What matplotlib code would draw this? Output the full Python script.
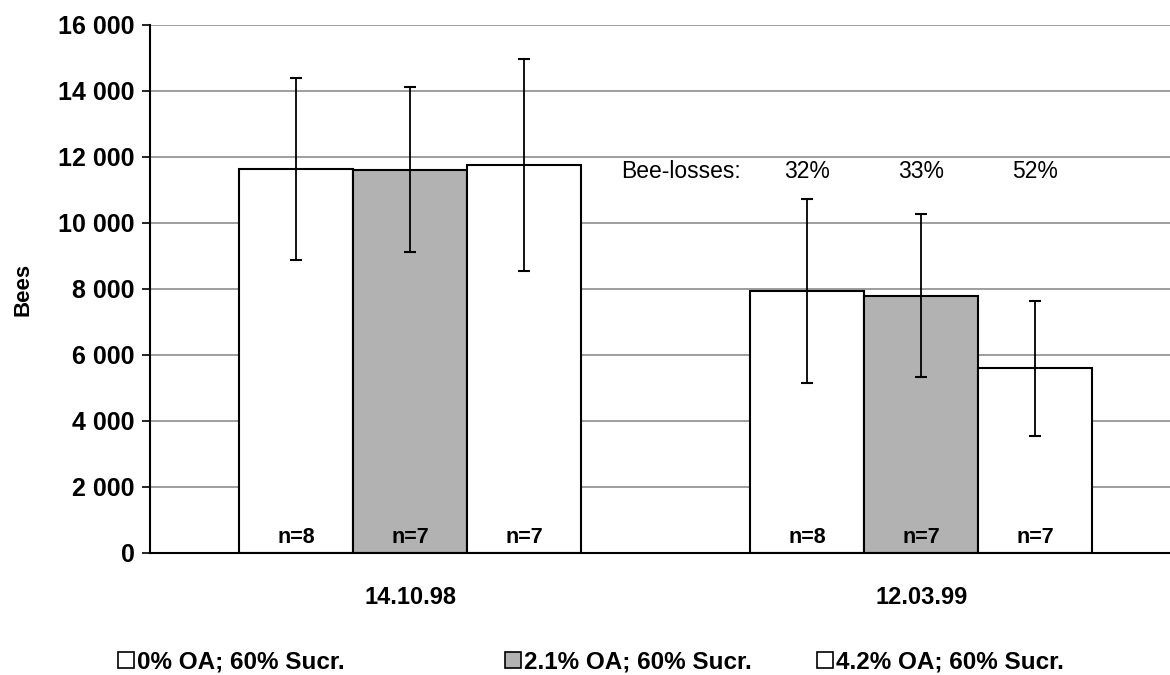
import numpy as np
import matplotlib.pyplot as plt
from matplotlib.patches import Patch

plt.rcParams['font.family'] = ['Liberation Sans', 'DejaVu Sans']

dates = ['14.10.98', '12.03.99']
series = ['0% OA; 60% Sucr.', '2.1% OA; 60% Sucr.', '4.2% OA; 60% Sucr.']
means = [[11640, 7940],
         [11620, 7800],
         [11760, 5600]]
errs = [[2750, 2790],
        [2500, 2470],
        [3210, 2045]]
n_labels = [['n=8', 'n=8'], ['n=7', 'n=7'], ['n=7', 'n=7']]
losses = ['32%', '33%', '52%']
colors = ['white', '#b2b2b2', 'white']

fig = plt.figure(figsize=(11.7, 6.75), dpi=100)
ax = fig.add_axes([150/1170, 122/675, 1020/1170, 528/675])

x = np.arange(len(dates))
w = 0.223
for i in range(3):
    pos = x + (i - 1) * w
    ax.bar(pos, means[i], w, color=colors[i], edgecolor='black', linewidth=1.5, zorder=2)
    ax.errorbar(pos, means[i], yerr=errs[i], fmt='none', ecolor='black',
                elinewidth=1.3, capsize=4, capthick=1.5, zorder=3)
    for j in range(len(dates)):
        ax.text(pos[j], 300, n_labels[i][j], ha='center', va='baseline',
                fontsize=15.5, fontweight='bold', zorder=4)
    ax.text(pos[1], 11550, losses[i], ha='center', va='center', fontsize=16.5, zorder=4)
ax.text(x[1] - 1.5 * w - 0.018, 11550, 'Bee-losses:', ha='right', va='center',
        fontsize=16.5, zorder=4)

ax.set_xlim(-0.509, 1.487)
ax.set_ylim(0, 16000)
ax.set_yticks(np.arange(0, 16001, 2000))
ax.set_yticklabels(['{:,}'.format(v).replace(',', ' ') for v in range(0, 16001, 2000)],
                   fontsize=18, fontweight='bold')
ax.set_xticks(x)
ax.set_xticklabels(dates, fontsize=17, fontweight='bold')
ax.tick_params(axis='x', length=0, pad=24)
ax.tick_params(axis='y', length=6, width=1.2, pad=5)
ax.yaxis.grid(True, color='#8c8c8c', linewidth=1.2, zorder=0)
ax.set_axisbelow(True)
for s in ['top', 'right']:
    ax.spines[s].set_visible(False)
ax.spines['left'].set_linewidth(1.5)
ax.spines['bottom'].set_linewidth(1.5)
ax.set_ylabel('Bees', fontsize=16, fontweight='bold', labelpad=18)

legend_x = [118, 505, 817]
for i in range(3):
    h = Patch(facecolor=colors[i], edgecolor='black', linewidth=1.2)
    fig.legend([h], [series[i]], loc='center left',
               bbox_to_anchor=(legend_x[i] / 1170, 1 - 662 / 675),
               frameon=False, borderpad=0, borderaxespad=0,
               handlelength=0.65, handleheight=0.65, handletextpad=0.15,
               prop={'size': 17.5, 'weight': 'bold'})

fig.savefig('out.png', dpi=100)
